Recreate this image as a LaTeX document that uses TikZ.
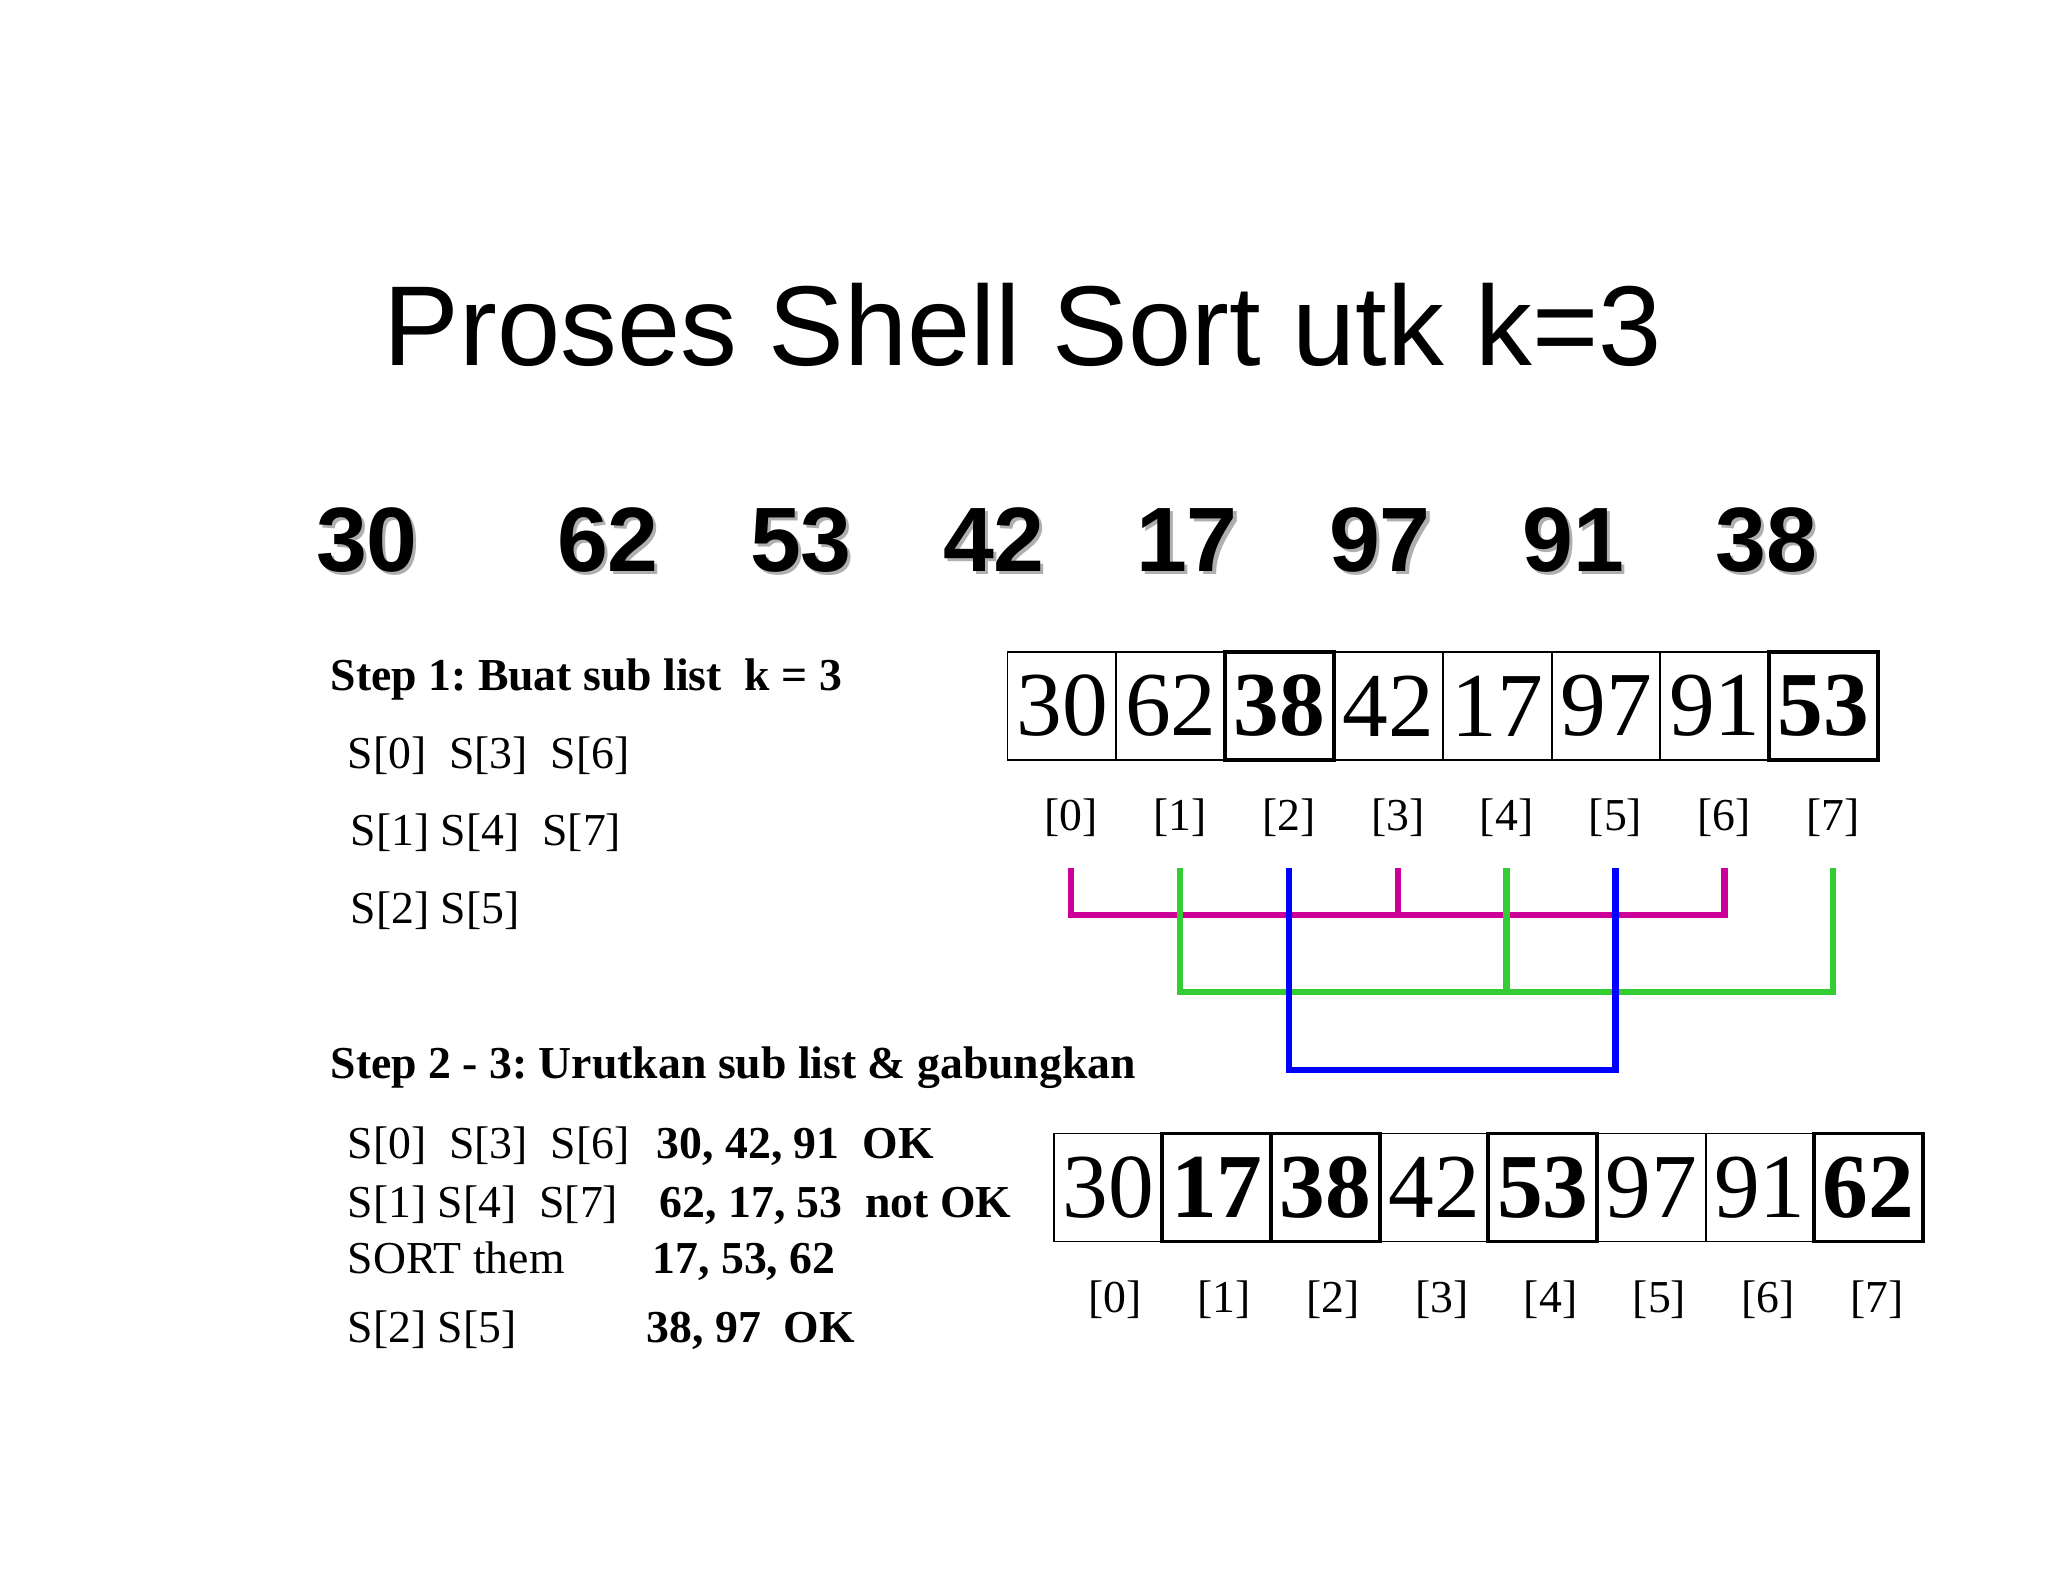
\documentclass[tikz,border=0pt]{standalone}
\usepackage{fontspec}
\setmainfont{Liberation Serif}
\newfontfamily\arialfont{Liberation Sans}
\frenchspacing
\definecolor{submag}{RGB}{204,0,153}
\definecolor{subgreen}{RGB}{51,204,51}
\definecolor{subblue}{RGB}{0,0,255}
\definecolor{shadowgray}{RGB}{175,175,175}
\begin{document}
\begin{tikzpicture}[x=0.01cm,y=-0.01cm,
    txt/.style={anchor=base west,inner sep=0pt,font=\fontsize{13}{15}\selectfont},
    txtb/.style={txt,font=\fontsize{13}{15}\selectfont\bfseries},
    cell/.style={draw,line width=0.5pt,minimum width=1.09cm,minimum height=1.08cm,inner sep=0pt,font=\fontsize{26}{30}\selectfont},
    boldcell/.style={cell,line width=1.1pt,font=\fontsize{26}{30}\selectfont\bfseries},
    idx/.style={inner sep=0pt,font=\fontsize{13}{15}\selectfont},
    bignum/.style={anchor=base,inner sep=0pt,font=\arialfont\bfseries\fontsize{26}{30}\selectfont},
    bar/.style={line width=1.8pt}]
  \useasboundingbox (0,0) rectangle (2048,1582);
  \node[anchor=base west,inner sep=0pt,font=\arialfont\fontsize{32.3}{38}\selectfont] (title) at (383,366) {Proses Shell Sort utk k=3};
  % the list, with shadow
  \foreach \x/\v in {367/30,608/62,801/53,994/42,1187/17,1380/97,1573/91,1766/38} {
    \node[bignum,shadowgray] at (\x+3,574) {\v};
    \node[bignum] (n\v) at (\x,571) {\v};
  }
  % step 1
  \node[txtb] (step1) at (330,690) {Step 1: Buat sub list~~k = 3};
  \node[txt] (sa) at (347,768) {S[0]~~S[3]~~S[6]};
  \node[txt] (sb) at (350,845) {S[1] S[4]~~S[7]};
  \node[txt] (sc) at (350,923) {S[2] S[5]};
  \foreach \v/\s [count=\i from 0] in {30/cell,62/cell,38/boldcell,42/cell,17/cell,97/cell,91/cell,53/boldcell}
    \node[\s] (t\i) at (1062+108.8*\i,706) {\v};
  \foreach \i in {0,...,7}
    \node[idx] (l\i) at (1071+108.9*\i,818) {[\i]};
  % sub lists
  \draw[bar,submag] (l0 |- 0,868) -- (l0 |- 0,915) -- (l6 |- 0,915) -- (l6 |- 0,868);
  \draw[bar,submag] (l3 |- 0,868) -- (l3 |- 0,915);
  \draw[bar,subgreen] (l1 |- 0,868) -- (l1 |- 0,992) -- (l7 |- 0,992) -- (l7 |- 0,868);
  \draw[bar,subgreen] (l4 |- 0,868) -- (l4 |- 0,992);
  \draw[bar,subblue] (l2 |- 0,868) -- (l2 |- 0,1070) -- (l5 |- 0,1070) -- (l5 |- 0,868);
  % step 2 - 3
  \node[txtb] (step2) at (330,1078) {Step 2 - 3: Urutkan sub list \& gabungkan};
  \node[txt] (ra) at (347,1158) {S[0]~~S[3]~~S[6]};
  \node[txtb] (rav) at (656,1158) {30, 42, 91~~OK};
  \node[txt] (rb) at (347,1217) {S[1] S[4]~~S[7]};
  \node[txtb] (rbv) at (659,1217) {62, 17, 53~~not OK};
  \node[txt] (rc) at (347,1273) {SORT them};
  \node[txtb] (rcv) at (652,1273) {17, 53, 62};
  \node[txt] (rd) at (347,1342) {S[2] S[5]};
  \node[txtb] (rdv) at (646,1342) {38, 97~~OK};
  \foreach \v/\s [count=\i from 0] in {30/cell,17/boldcell,38/boldcell,42/cell,53/boldcell,97/cell,91/cell,62/boldcell}
    \node[\s] (b\i) at (1108.3+108.6*\i,1187.5) {\v};
  \foreach \i in {0,...,7}
    \node[idx] (m\i) at (1115+108.9*\i,1300) {[\i]};
\end{tikzpicture}
\end{document}
